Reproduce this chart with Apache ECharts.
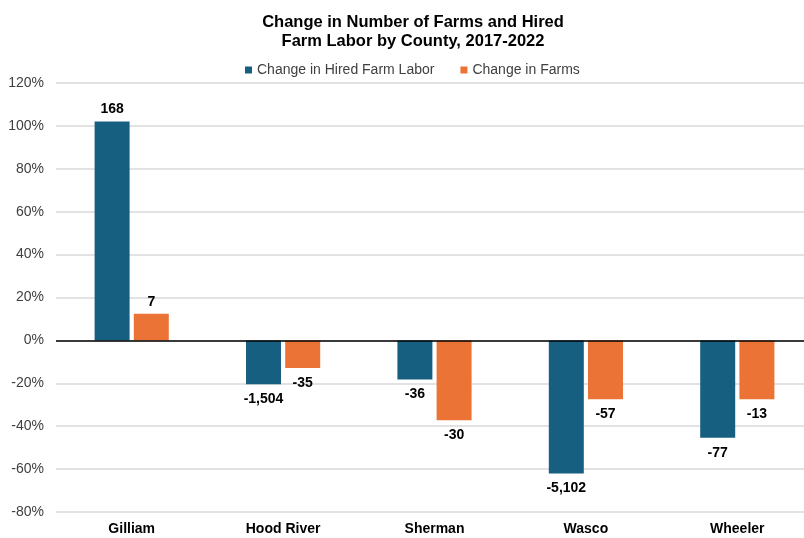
<!DOCTYPE html>
<html><head><meta charset="utf-8">
<script src="https://cdn.jsdelivr.net/npm/echarts@6/dist/echarts.min.js"></script>
<style>html,body{margin:0;padding:0;background:#fff}#c{width:804px;height:538px}</style>
</head><body><div id="c"></div>
<script>
const categories = ['Gilliam', 'Hood River', 'Sherman', 'Wasco', 'Wheeler'];
const laborPct = [102, -20.5, -18.2, -62, -45.4];
const farmsPct = [12.4, -12.9, -37.2, -27.4, -27.4];
const laborAbs = ['168', '-1,504', '-36', '-5,102', '-77'];
const farmsAbs = ['7', '-35', '-30', '-57', '-13'];
const yTicks = {min: -80, max: 120, interval: 20};

const font = '"Liberation Sans", Arial, sans-serif';
function mk(vals, abs) {
  return vals.map((v, i) => ({
    value: v,
    label: {position: v >= 0 ? 'top' : 'bottom', distance: v >= 0 ? 5 : 8, formatter: abs[i]}
  }));
}
const labelStyle = {show: true, fontFamily: font, fontSize: 14, fontWeight: 'bold', color: '#000'};
const chart = echarts.init(document.getElementById('c'));
chart.setOption({
  animation: false,
  title: {
    text: 'Change in Number of Farms and Hired\nFarm Labor by County, 2017-2022',
    left: 408, top: 8, textAlign: 'center',
    textStyle: {fontFamily: font, fontSize: 16.5, fontWeight: 'bold', color: '#000', lineHeight: 19}
  },
  legend: {
    top: 58, left: 240, itemWidth: 7, itemHeight: 7, itemGap: 26,
    icon: 'rect',
    textStyle: {fontFamily: font, fontSize: 14, color: '#404040'},
    data: ['Change in Hired Farm Labor', 'Change in Farms']
  },
  grid: {left: 56, width: 757, top: 83, bottom: 26, containLabel: false, outerBoundsMode: 'none'},
  xAxis: {
    type: 'category', data: categories,
    axisLine: {show: false}, axisTick: {show: false},
    axisLabel: {fontFamily: font, fontSize: 14, fontWeight: 'bold', color: '#000', margin: 10}
  },
  yAxis: {
    type: 'value', min: yTicks.min, max: yTicks.max, interval: yTicks.interval,
    axisLine: {show: false}, axisTick: {show: false},
    axisLabel: {formatter: '{value}%', fontFamily: font, fontSize: 14, color: '#404040', margin: 12},
    splitLine: {lineStyle: {color: '#d9d9d9', width: 1.5}}
  },
  series: [
    {name: 'Change in Hired Farm Labor', type: 'bar', data: mk(laborPct, laborAbs),
     itemStyle: {color: '#175F80'}, barGap: '12%', barCategoryGap: '51%', label: labelStyle,
     markLine: {silent: true, symbol: 'none', label: {show: false},
       lineStyle: {color: '#000', width: 1.5, type: 'solid'}, data: [{yAxis: 0}]}},
    {name: 'Change in Farms', type: 'bar', data: mk(farmsPct, farmsAbs),
     itemStyle: {color: '#EB7335'}, barGap: '12%', barCategoryGap: '51%', label: labelStyle}
  ]
});
</script></body></html>
